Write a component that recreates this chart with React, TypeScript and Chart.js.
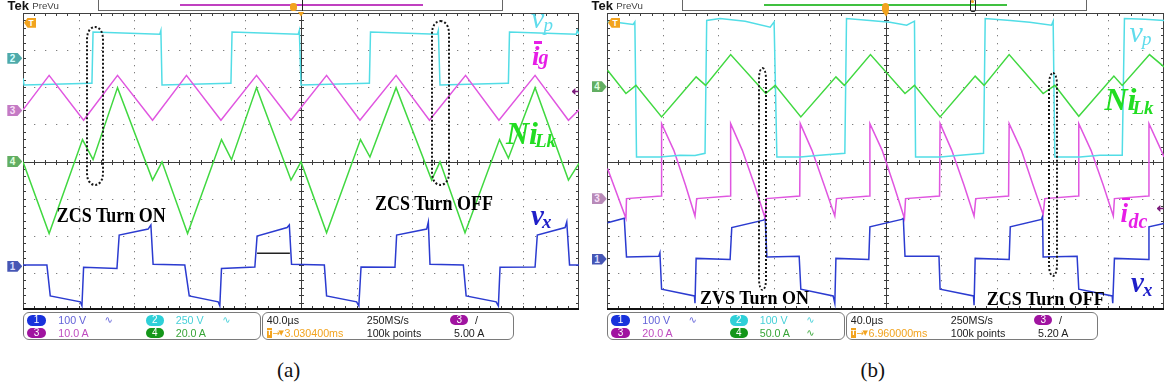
import React, { useEffect, useRef } from 'react';
import { Chart, registerables } from 'chart.js';

Chart.register(...registerables);

// ---------- data : x in divisions (0..10, 40 µs/div), y in divisions (-4..4) ----------
// panel (a)
const vpA = [[0,2.24],[0.02,2.06],[1.22,2.11],[1.24,2.11],[1.26,3.49],[2.46,3.43],[2.48,3.53],[2.5,2.06],[3.72,2.11],[3.74,2.11],[3.76,3.49],[4.95,3.43],[4.97,3.53],[5.0,2.06],[6.21,2.11],[6.23,2.11],[6.25,3.49],[7.45,3.43],[7.47,3.53],[7.5,2.06],[8.71,2.11],[8.73,2.11],[8.75,3.49],[9.95,3.43],[9.97,3.53],[10,3.43]];
const igA = [[0,1.39],[0.47,2.32],[1.09,1.11],[1.7,2.32],[2.33,1.11],[2.94,2.32],[3.56,1.11],[4.2,2.32],[4.82,1.11],[5.46,2.32],[6.06,1.11],[6.71,2.32],[7.31,1.11],[7.96,2.32],[8.56,1.11],[9.21,2.32],[9.81,1.11],[10,1.39]];
const nilkA = [[0,-0.01],[0.47,-1.94],[1.07,0.59],[1.26,0.05],[1.7,1.99],[2.33,-0.5],[2.5,-0.01],[2.96,-1.94],[3.57,0.59],[3.75,0.05],[4.2,1.99],[4.82,-0.5],[5.0,-0.01],[5.46,-1.92],[6.07,0.59],[6.24,0.12],[6.71,1.99],[7.35,-0.5],[7.5,-0.01],[7.95,-1.92],[8.57,0.59],[8.73,0.09],[9.21,1.99],[9.81,-0.5],[10,-0.05]];
const vxA = [[0,-2.79],[0.43,-2.79],[0.49,-3.62],[1.03,-3.78],[1.06,-3.89],[1.09,-2.85],[1.69,-2.88],[1.73,-1.98],[2.25,-1.82],[2.3,-1.71],[2.34,-2.77],[2.91,-2.79],[2.99,-3.62],[3.51,-3.78],[3.54,-3.89],[3.57,-2.88],[4.17,-2.84],[4.21,-2.01],[4.75,-1.78],[4.79,-1.71],[4.83,-2.77],[5.42,-2.79],[5.46,-3.62],[6.0,-3.78],[6.04,-3.89],[6.08,-2.84],[6.69,-2.85],[6.72,-1.98],[7.26,-1.82],[7.29,-1.63],[7.32,-2.77],[7.92,-2.79],[7.97,-3.62],[8.51,-3.78],[8.55,-3.89],[8.58,-2.85],[9.21,-2.84],[9.25,-1.98],[9.75,-1.78],[9.78,-1.63],[9.83,-2.79],[10,-2.79]];
const markA = [[4.21,-2.47],[4.8,-2.47]];
// panel (b)
const vpB = [[0.01,3.76],[0.23,3.74],[0.47,3.69],[0.5,3.76],[0.53,0.12],[0.95,0.12],[1.31,0.17],[1.58,0.16],[1.76,0.22],[1.79,3.8],[2.03,3.85],[2.48,3.78],[2.93,3.62],[3.0,3.76],[3.05,0.12],[3.47,0.12],[3.82,0.17],[4.27,0.22],[4.3,3.85],[4.72,3.8],[5.08,3.75],[5.38,3.67],[5.52,3.78],[5.54,0.12],[5.98,0.12],[6.34,0.17],[6.76,0.22],[6.79,3.85],[7.24,3.8],[7.59,3.75],[7.98,3.67],[8.01,3.78],[8.04,0.12],[8.49,0.12],[8.85,0.17],[9.25,0.17],[9.29,3.85],[9.66,3.83],[10,3.8]];
const nilkB = [[0.01,2.46],[0.34,1.83],[0.52,2.05],[0.98,1.2],[1.6,2.28],[1.77,2.05],[2.22,2.88],[2.85,1.83],[3.02,2.05],[3.48,1.2],[4.11,2.28],[4.26,2.05],[4.73,2.88],[5.35,1.83],[5.52,2.05],[5.98,1.2],[6.61,2.3],[6.77,2.05],[7.22,2.88],[7.83,1.83],[8.04,2.05],[8.47,1.22],[9.1,2.3],[9.25,2.05],[9.74,2.88],[10,2.55]];
const idcB = [[0.01,-0.19],[0.34,-1.53],[0.35,-1.0],[0.97,-0.93],[0.98,1.02],[1.2,0.3],[1.41,-0.64],[1.58,-1.47],[1.61,-1.0],[2.21,-0.93],[2.22,1.02],[2.43,0.3],[2.65,-0.64],[2.84,-1.53],[2.86,-1.0],[3.46,-0.93],[3.47,1.02],[3.68,0.3],[3.9,-0.64],[4.09,-1.47],[4.12,-1.0],[4.71,-0.93],[4.72,1.02],[4.94,0.3],[5.15,-0.64],[5.34,-1.53],[5.36,-1.0],[5.97,-0.93],[5.98,1.02],[6.19,0.3],[6.41,-0.64],[6.59,-1.47],[6.62,-1.0],[7.21,-0.93],[7.22,1.02],[7.44,0.3],[7.65,-0.64],[7.83,-1.42],[7.86,-1.0],[8.46,-0.93],[8.47,1.02],[8.69,0.3],[8.91,-0.64],[9.09,-1.47],[9.11,-1.0],[9.72,-0.93],[9.73,1.02],[9.95,0.3],[10,0.12]];
const vxB = [[0.01,-1.65],[0.31,-1.53],[0.35,-2.57],[0.93,-2.55],[0.95,-2.46],[0.98,-3.44],[1.57,-3.62],[1.58,-3.82],[1.6,-2.61],[2.21,-2.64],[2.24,-1.78],[2.81,-1.58],[2.84,-1.53],[2.87,-2.57],[3.45,-2.55],[3.48,-3.44],[4.06,-3.62],[4.09,-3.82],[4.11,-2.61],[4.7,-2.64],[4.72,-1.76],[5.29,-1.56],[5.32,-1.53],[5.35,-2.55],[5.96,-2.55],[5.98,-3.44],[6.58,-3.62],[6.59,-3.87],[6.61,-2.61],[7.22,-2.64],[7.24,-1.76],[7.8,-1.56],[7.82,-1.47],[7.83,-2.57],[8.44,-2.55],[8.47,-3.44],[9.07,-3.62],[9.08,-3.82],[9.11,-2.61],[9.72,-2.64],[9.73,-1.76],[10,-1.67]];

// ---------- labels ----------
const chScaleA = ['100 V', '250 V', '10.0 A', '20.0 A'];
const chScaleB = ['100 V', '100 V', '20.0 A', '50.0 A'];
const chWaveA = [true, true, false, false];
const chWaveB = [true, true, false, true];
const timeBase = '40.0µs';
const sampleRate = '250MS/s';
const recLen = '100k points';
const trigPosA = '3.030400ms';
const trigPosB = '6.960000ms';
const trigLevelA = '5.00 A';
const trigLevelB = '5.20 A';
const annotA = ['ZCS Turn ON', 'ZCS Turn OFF'];
const annotB = ['ZVS Turn ON', 'ZCS Turn OFF'];
const captions = ['(a)', '(b)'];

const X_DIVS = 10;
const Y_DIVS = 8;
const MINOR = 5;
const PAD = 2;

const SANS = '"Liberation Sans", Arial, "DejaVu Sans", sans-serif';
const SERIF = '"Liberation Serif", "Times New Roman", "DejaVu Serif", serif';

const C_CYAN = '#52dde6';
const C_MAG = '#e056e0';
const C_GREEN = '#40d840';
const C_BLUE = '#2b3bd0';
const ORANGE = '#f2a31e';
const PILL = ['#1832dc', '#2fd0d8', '#a014a0', '#14961a'];
const TXTC = ['#6262d8', '#46d0d8', '#c04cc0', '#38a538'];

const scopeGrid = {
  id: 'scopeGrid',
  beforeDatasetsDraw(chart: any) {
    const { ctx, chartArea: a } = chart;
    const xs = chart.scales.x;
    const ys = chart.scales.y;
    const px = (v: number) => Math.round(xs.getPixelForValue(v));
    const py = (v: number) => Math.round(ys.getPixelForValue(v));
    const y0 = -Y_DIVS / 2;
    ctx.save();
    ctx.fillStyle = '#7f7f7f';
    for (let i = 1; i < X_DIVS; i++) {
      if (i === X_DIVS / 2) continue;
      const gx = px(i);
      for (let k = 1; k < Y_DIVS * MINOR; k++) ctx.fillRect(gx, py(y0 + k / MINOR), 1, 1.3);
    }
    for (let j = 1; j < Y_DIVS; j++) {
      if (j === Y_DIVS / 2) continue;
      const gy = py(y0 + j);
      for (let k = 1; k < X_DIVS * MINOR; k++) ctx.fillRect(px(k / MINOR), gy, 1.3, 1);
    }
    ctx.fillStyle = '#3c3c3c';
    const cx = px(X_DIVS / 2);
    const cy = py(0);
    ctx.fillRect(cx, a.top, 1, a.bottom - a.top);
    ctx.fillRect(a.left, cy, a.right - a.left, 1);
    for (let k = 1; k < X_DIVS * MINOR; k++) {
      const tx = px(k / MINOR);
      ctx.fillRect(tx, cy - 2, 1, 5);
      ctx.fillRect(tx, a.top, 1, 3);
      ctx.fillRect(tx, a.bottom - 4, 1, 3);
    }
    for (let k = 1; k < Y_DIVS * MINOR; k++) {
      const ty = py(y0 + k / MINOR);
      ctx.fillRect(cx - 2, ty, 5, 1);
      ctx.fillRect(a.left, ty, 3, 1);
      ctx.fillRect(a.right - 3, ty, 3, 1);
    }
    ctx.fillStyle = '#404040';
    ctx.fillRect(a.left, a.top, a.right - a.left, 1);
    ctx.fillRect(a.left, a.top, 1, a.bottom - a.top);
    ctx.fillRect(a.right - 1, a.top, 1, a.bottom - a.top);
    ctx.fillStyle = '#111';
    ctx.fillRect(a.left, a.bottom - 2, a.right - a.left, 2);
    ctx.restore();
  },
};

function Scope({ left, top, width, height, traces }: any) {
  const ref = useRef<HTMLCanvasElement>(null);
  useEffect(() => {
    const chart = new Chart(ref.current as HTMLCanvasElement, {
      type: 'scatter',
      data: {
        datasets: traces.map((t: any) => ({
          data: t.pts.map((p: number[]) => ({ x: p[0], y: p[1] })),
          showLine: true,
          borderColor: t.color,
          backgroundColor: t.color,
          borderWidth: t.w || 1.5,
          pointRadius: 0,
          pointHoverRadius: 0,
          fill: false,
          tension: 0,
        })),
      },
      options: {
        animation: false,
        responsive: false,
        maintainAspectRatio: false,
        devicePixelRatio: 1,
        events: [],
        layout: { padding: PAD },
        scales: {
          x: { type: 'linear', min: 0, max: X_DIVS, display: false },
          y: { type: 'linear', min: -Y_DIVS / 2, max: Y_DIVS / 2, display: false },
        },
        plugins: { legend: { display: false }, tooltip: { enabled: false } },
      } as any,
      plugins: [scopeGrid as any],
    });
    return () => chart.destroy();
  }, []);
  const w = width + 2 * PAD;
  const h = height + 2 * PAD;
  return (
    <canvas
      ref={ref}
      width={w}
      height={h}
      style={{ position: 'absolute', left: left - PAD, top: top - PAD, width: w, height: h }}
    />
  );
}

function Txt({ x, b, size, font = SERIF, color = '#000', bold = false, italic = false, center = false, sy = 1, children }: any) {
  const tf: string[] = [];
  if (center) tf.push('translateX(-50%)');
  if (sy !== 1) tf.push(`scaleY(${sy})`);
  return (
    <div
      style={{
        position: 'absolute',
        left: x,
        top: b - 0.34 * size,
        lineHeight: 0,
        fontSize: size,
        fontFamily: font,
        color,
        fontWeight: bold ? 'bold' : 'normal',
        fontStyle: italic ? 'italic' : 'normal',
        whiteSpace: 'nowrap',
        transform: tf.length ? tf.join(' ') : undefined,
        transformOrigin: `0 ${0.34 * size}px`,
      }}
    >
      {children}
    </div>
  );
}

function Box({ x, y, w, h, style }: any) {
  return <div style={{ position: 'absolute', left: x, top: y, width: w, height: h, boxSizing: 'border-box', ...style }} />;
}

function Pill({ x, y, bg, n }: any) {
  return (
    <div
      style={{
        position: 'absolute', left: x, top: y, width: 18.4, height: 10.6, borderRadius: 5.3,
        background: bg, color: '#fff', fontSize: 10, lineHeight: '10.6px', textAlign: 'center', fontFamily: SANS,
      }}
    >
      {n}
    </div>
  );
}

function ChMark({ x, yc, bg, fg, n }: any) {
  return (
    <div
      style={{
        position: 'absolute', left: x, top: yc - 5.5, width: 15, height: 11, background: bg,
        clipPath: 'polygon(0 0, 68% 0, 100% 50%, 68% 100%, 0 100%)', color: fg, fontSize: 10,
        fontWeight: 'bold', lineHeight: '11px', paddingLeft: 2.5, boxSizing: 'border-box', fontFamily: SANS,
      }}
    >
      {n}
    </div>
  );
}

function TMark({ x, yc }: any) {
  return (
    <div
      style={{
        position: 'absolute', left: x, top: yc - 5, width: 12, height: 10, background: ORANGE,
        clipPath: 'polygon(30% 0, 100% 0, 100% 100%, 30% 100%, 0 50%)', color: '#fff', fontSize: 8.5,
        fontWeight: 'bold', lineHeight: '10px', paddingLeft: 4.5, boxSizing: 'border-box', fontFamily: SANS,
      }}
    >
      T
    </div>
  );
}

function Oval({ x, y, w, h }: any) {
  return (
    <div
      style={{
        position: 'absolute', left: x, top: y, width: w, height: h, boxSizing: 'border-box',
        border: '2px dotted #151515', borderRadius: `${w / 2}px / 12px`,
      }}
    />
  );
}

function Arrow({ x, y }: any) {
  return (
    <div
      style={{
        position: 'absolute', left: x, top: y, width: 7, height: 7, background: '#7c1c7c',
        clipPath: 'polygon(0 50%, 55% 0, 55% 38%, 100% 38%, 100% 62%, 55% 62%, 55% 100%)',
      }}
    />
  );
}

function Sym({ x, b, main, sub, color, mainSize, subSize, subDx, subDb, bold, bar }: any) {
  return (
    <>
      <Txt x={x} b={b} size={mainSize} color={color} italic bold={bold}>{main}</Txt>
      <Txt x={x + subDx} b={b + subDb} size={subSize} color={color} italic bold={bold}>{sub}</Txt>
      {bar ? <Box x={x + bar[0]} y={b - bar[1]} w={8} h={2.8} style={{ background: color }} /> : null}
    </>
  );
}

function Chrome({ ox, lineColor, scales, waves, trigPos, trigLevel, caption, bracket }: any) {
  const r1 = 323.3;
  const r2 = 336.7;
  const fs = 10.7;
  return (
    <>
      <Txt x={7.5 + ox} b={10.3} size={13} font={SANS} bold color="#111">Tek</Txt>
      <Txt x={32.3 + ox} b={9.5} size={9.7} font={SANS} color="#444">PreVu</Txt>
      <Box x={97.7 + ox} y={-1} w={405.6} h={12.3} style={{ border: '1px solid #666', background: '#fff' }} />
      <Box x={180 + ox} y={4.4} w={243} h={1.3} style={{ background: lineColor }} />
      {bracket ? (
        <>
          <Box x={882 + ox - 584} y={3} w={7} h={10} style={{ background: ORANGE, borderRadius: 3.5 }} />
          <Box x={969.5 + ox - 584} y={-1} w={6.5} h={12.5} style={{ border: '1px solid #222', borderRadius: 2 }} />
          <Box x={971.2 + ox - 584} y={0} w={3} h={3} style={{ background: ORANGE, borderRadius: 1.5 }} />
          <Box x={882.5 + ox - 584} y={11.5} w={7} h={5} style={{ background: ORANGE, clipPath: 'polygon(0 0, 100% 0, 50% 100%)' }} />
        </>
      ) : (
        <>
          <Box x={290 + ox} y={3} w={7} h={8} style={{ background: ORANGE, borderRadius: 3 }} />
          <Box x={302 + ox} y={0} w={1} h={11} style={{ background: '#222' }} />
          <Box x={297.5 + ox} y={11.5} w={7} h={5} style={{ background: ORANGE, clipPath: 'polygon(0 0, 100% 0, 50% 100%)' }} />
        </>
      )}

      <Box x={22.7 + ox} y={311.7} w={238} h={28.6} style={{ border: '1px solid #7a7a7a', borderRadius: 6 }} />
      <Box x={262.3 + ox} y={311.7} w={252} h={28.6} style={{ border: '1px solid #7a7a7a', borderRadius: 6 }} />

      <Pill x={27.3 + ox} y={315} bg={PILL[0]} n="1" />
      <Pill x={145.7 + ox} y={315} bg={PILL[1]} n="2" />
      <Pill x={27.3 + ox} y={327.7} bg={PILL[2]} n="3" />
      <Pill x={145.7 + ox} y={327.7} bg={PILL[3]} n="4" />
      <Txt x={58.3 + ox} b={r1} size={fs} font={SANS} color={TXTC[0]}>{scales[0]}</Txt>
      <Txt x={175.7 + ox} b={r1} size={fs} font={SANS} color={TXTC[1]}>{scales[1]}</Txt>
      <Txt x={58.3 + ox} b={r2} size={fs} font={SANS} color={TXTC[2]}>{scales[2]}</Txt>
      <Txt x={175.7 + ox} b={r2} size={fs} font={SANS} color={TXTC[3]}>{scales[3]}</Txt>
      {waves[0] ? <Txt x={104.5 + ox} b={r1} size={10} font={SANS} color={TXTC[0]}>∿</Txt> : null}
      {waves[1] ? <Txt x={222.3 + ox} b={r1} size={10} font={SANS} color={TXTC[1]}>∿</Txt> : null}
      {waves[2] ? <Txt x={104.5 + ox} b={r2} size={10} font={SANS} color={TXTC[2]}>∿</Txt> : null}
      {waves[3] ? <Txt x={222.3 + ox} b={r2} size={10} font={SANS} color={TXTC[3]}>∿</Txt> : null}

      <Txt x={266.7 + ox} b={r1} size={fs} font={SANS} color="#222">{timeBase}</Txt>
      <Txt x={366.7 + ox} b={r1} size={fs} font={SANS} color="#222">{sampleRate}</Txt>
      <Pill x={450 + ox} y={314.7} bg={PILL[2]} n="3" />
      <Txt x={475 + ox} b={r1} size={fs} font={SANS} color="#222">/</Txt>
      <div
        style={{
          position: 'absolute', left: 266.7 + ox, top: 327.6, width: 5.5, height: 10, background: ORANGE,
          color: '#fff', fontSize: 8, lineHeight: '10px', textAlign: 'center', fontFamily: SANS, fontWeight: 'bold',
        }}
      >
        T
      </div>
      <Txt x={272.5 + ox} b={r2 - 0.5} size={9} font='"DejaVu Sans", sans-serif' color={ORANGE}>→</Txt>
      <Txt x={278.6 + ox} b={r2 - 1.5} size={7} font='"DejaVu Sans", sans-serif' color={ORANGE}>▼</Txt>
      <Txt x={284.5 + ox} b={r2} size={fs} font={SANS} color={ORANGE}>{trigPos}</Txt>
      <Txt x={366.7 + ox} b={r2} size={fs} font={SANS} color="#222">{recLen}</Txt>
      <Txt x={454 + ox} b={r2} size={fs} font={SANS} color="#222">{trigLevel}</Txt>

      <Txt x={288.7 + ox} b={377} size={21} center color="#111">{caption}</Txt>
    </>
  );
}

export default function App() {
  const tracesA = [
    { pts: nilkA, color: C_GREEN },
    { pts: igA, color: C_MAG },
    { pts: vpA, color: C_CYAN },
    { pts: vxA, color: C_BLUE },
    { pts: markA, color: '#222', w: 1.4 },
  ];
  const tracesB = [
    { pts: nilkB, color: C_GREEN },
    { pts: vpB, color: C_CYAN },
    { pts: idcB, color: C_MAG },
    { pts: vxB, color: C_BLUE },
  ];
  return (
    <div
      style={{
        position: 'absolute', left: 0, top: 0, width: 1171, height: 391, background: '#fff',
        overflow: 'hidden', fontFamily: SANS,
      }}
    >
      <Scope left={23} top={13} width={556} height={297} traces={tracesA} />
      <Scope left={607} top={13} width={557} height={297} traces={tracesB} />

      {/* channel markers panel (a) */}
      <TMark x={24} yc={22.8} />
      <ChMark x={7.3} yc={58.3} bg="#4eaaaa" fg="#d6ffff" n="2" />
      <ChMark x={7.3} yc={110.5} bg="#c47ac4" fg="#f8e0f8" n="3" />
      <ChMark x={7.3} yc={161.5} bg="#62ae62" fg="#e0ffe0" n="4" />
      <ChMark x={7.3} yc={266.2} bg="#4656b4" fg="#d8dcff" n="1" />
      <Arrow x={571.5} y={88} />
      {/* channel markers panel (b) */}
      <TMark x={608} yc={22.8} />
      <ChMark x={591.7} yc={86.7} bg="#62ae62" fg="#e0ffe0" n="4" />
      <ChMark x={591.7} yc={198.7} bg="#b88ab8" fg="#f8e0f8" n="3" />
      <ChMark x={591.7} yc={259} bg="#4656b4" fg="#d8dcff" n="1" />
      <Arrow x={1156.5} y={205} />

      {/* dotted ovals */}
      <Oval x={86} y={26} w={17.5} h={160} />
      <Oval x={430.5} y={19.5} w={19} h={166.5} />
      <Oval x={757.5} y={66.5} w={9.5} h={224} />
      <Oval x={1048} y={71.5} w={10} h={205} />

      {/* signal names panel (a) */}
      <Sym x={531} b={28.5} main="v" sub="p" color="#5fdcec" mainSize={30} subSize={19} subDx={12.5} subDb={2.5} />
      <Sym x={532} b={65} main="i" sub="g" color="#e61ee6" mainSize={27} subSize={20} subDx={6.5} subDb={-1} bold bar={[1.5, 24]} />
      <Sym x={506} b={143.5} main="Ni" sub="Lk" color="#22dd22" mainSize={32} subSize={19} subDx={29} subDb={3.5} bold />
      <Sym x={531} b={225} main="v" sub="x" color="#1f1fc8" mainSize={29} subSize={19} subDx={11} subDb={3} bold />
      <Txt x={56.7} b={221.7} size={18} bold sy={1.12} color="#000">{annotA[0]}</Txt>
      <Txt x={375} b={210} size={18} bold sy={1.12} color="#000">{annotA[1]}</Txt>

      {/* signal names panel (b) */}
      <Sym x={1129.5} b={41.7} main="v" sub="p" color="#5fdcec" mainSize={30} subSize={19} subDx={12.5} subDb={3.3} />
      <Sym x={1104.5} b={110} main="Ni" sub="Lk" color="#22dd22" mainSize={32} subSize={19} subDx={28} subDb={4.5} bold />
      <Sym x={1120.5} b={221.7} main="i" sub="dc" color="#e61ee6" mainSize={27} subSize={20} subDx={8} subDb={6.3} bold bar={[1.5, 24]} />
      <Sym x={1131} b={291.7} main="v" sub="x" color="#1f1fc8" mainSize={29} subSize={19} subDx={12} subDb={4.8} bold />
      <Txt x={700} b={304} size={18} bold sy={1.1} color="#000">{annotB[0]}</Txt>
      <Txt x={986.7} b={305} size={18} bold sy={1.1} color="#000">{annotB[1]}</Txt>

      <Chrome ox={0} lineColor="#c040c0" scales={chScaleA} waves={chWaveA} trigPos={trigPosA} trigLevel={trigLevelA} caption={captions[0]} bracket={false} />
      <Chrome ox={584} lineColor="#40c040" scales={chScaleB} waves={chWaveB} trigPos={trigPosB} trigLevel={trigLevelB} caption={captions[1]} bracket />
    </div>
  );
}
